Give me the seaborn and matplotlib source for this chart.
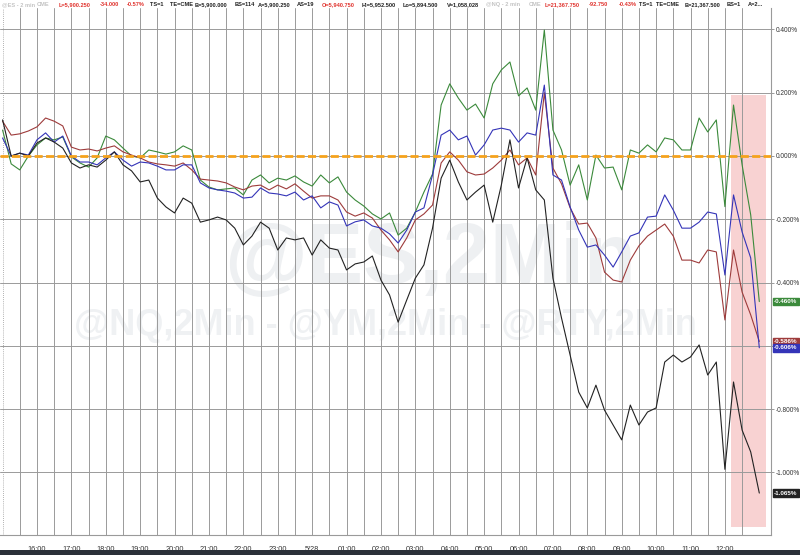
import numpy as np
import pandas as pd
import seaborn as sns
import matplotlib
matplotlib.use("Agg")
import matplotlib.pyplot as plt
import matplotlib.dates as mdates
import matplotlib.transforms as mtransforms
from matplotlib.patches import Rectangle
from matplotlib.ticker import FuncFormatter

# 15-minute readings, % change since the 15:00 open
START = "2025-05-27 15:00"

ym_pct = [0.11, 0.066, 0.07, 0.079, 0.092, 0.12, 0.11, 0.095, 0.028, 0.019,
          0.022, 0.016, 0.025, 0.032, 0.013, 0.003, -0.006, -0.019, -0.025, -0.028,
          -0.032, -0.022, -0.044, -0.073, -0.076, -0.079, -0.085, -0.098, -0.107, -0.095,
          -0.092, -0.107, -0.092, -0.104, -0.088, -0.111, -0.133, -0.126, -0.126, -0.139,
          -0.177, -0.19, -0.18, -0.196, -0.234, -0.265, -0.303, -0.259, -0.202, -0.183,
          -0.155, -0.022, 0.013, -0.013, -0.05, -0.06, -0.057, -0.038, -0.013, 0.019,
          -0.028, -0.006, -0.06, 0.2, -0.038, -0.088, -0.164, -0.215, -0.212, -0.259,
          -0.367, -0.392, -0.398, -0.329, -0.284, -0.253, -0.234, -0.215, -0.253, -0.329,
          -0.329, -0.338, -0.297, -0.303, -0.518, -0.297, -0.43, -0.502, -0.586]

es_pct = [0.057, 0.0, 0.009, 0.003, 0.051, 0.073, 0.044, 0.063, 0.0, -0.019,
          -0.019, -0.028, -0.006, 0.013, -0.013, -0.032, -0.019, -0.022, -0.032, -0.044,
          -0.044, -0.028, -0.028, -0.085, -0.101, -0.107, -0.111, -0.117, -0.133, -0.13,
          -0.101, -0.117, -0.12, -0.126, -0.114, -0.139, -0.126, -0.164, -0.145, -0.155,
          -0.221, -0.208, -0.202, -0.221, -0.228, -0.246, -0.275, -0.234, -0.177, -0.164,
          -0.06, 0.066, 0.082, 0.051, 0.063, 0.003, 0.035, 0.082, 0.088, 0.082,
          0.044, 0.073, 0.066, 0.224, -0.06, -0.076, -0.161, -0.234, -0.288, -0.281,
          -0.313, -0.351, -0.303, -0.253, -0.243, -0.193, -0.19, -0.123, -0.171, -0.228,
          -0.228, -0.209, -0.177, -0.183, -0.376, -0.123, -0.24, -0.322, -0.606]

nq_pct = [0.082, -0.025, -0.044, 0.0, 0.035, 0.057, 0.051, 0.06, -0.003, -0.022,
          -0.035, -0.006, 0.063, 0.051, 0.025, 0.0, -0.006, 0.019, 0.013, 0.006,
          0.013, 0.032, 0.019, -0.076, -0.098, -0.107, -0.104, -0.101, -0.123, -0.076,
          -0.06, -0.085, -0.07, -0.076, -0.063, -0.082, -0.095, -0.06, -0.085, -0.066,
          -0.114, -0.139, -0.158, -0.183, -0.199, -0.18, -0.25, -0.228, -0.177, -0.114,
          -0.057, 0.161, 0.228, 0.183, 0.145, 0.164, 0.12, 0.228, 0.272, 0.297,
          0.19, 0.215, 0.145, 0.398, 0.082, 0.019, -0.092, -0.028, -0.139, 0.003,
          -0.038, -0.035, -0.107, 0.019, 0.009, 0.035, 0.013, 0.057, 0.051, 0.019,
          0.019, 0.12, 0.076, 0.114, -0.16, 0.161, -0.028, -0.186, -0.46]

rty_pct = [0.114, 0.0, 0.009, 0.0, 0.041, 0.057, 0.044, 0.025, -0.022, -0.038,
           -0.028, -0.035, -0.013, 0.013, -0.028, -0.047, -0.082, -0.076, -0.133, -0.161,
           -0.18, -0.133, -0.149, -0.209, -0.202, -0.193, -0.202, -0.228, -0.281, -0.253,
           -0.209, -0.228, -0.297, -0.259, -0.265, -0.259, -0.313, -0.265, -0.291, -0.297,
           -0.36, -0.341, -0.335, -0.316, -0.392, -0.439, -0.525, -0.455, -0.386, -0.344,
           -0.228, -0.07, -0.013, -0.082, -0.139, -0.114, -0.092, -0.209, -0.092, 0.051,
           -0.101, -0.006, -0.107, -0.139, -0.386, -0.512, -0.629, -0.746, -0.796, -0.724,
           -0.803, -0.85, -0.897, -0.787, -0.85, -0.809, -0.796, -0.651, -0.629, -0.651,
           -0.635, -0.597, -0.692, -0.651, -0.99, -0.714, -0.866, -0.935, -1.065]

contracts = ["NQ", "YM", "ES", "RTY"]
last_labels = ["-0.460%", "-0.586%", "-0.606%", "-1.065%"]
hour_labels = ["16:00", "17:00", "18:00", "19:00", "20:00", "21:00", "22:00",
               "23:00", "5/28", "01:00", "02:00", "03:00", "04:00", "05:00",
               "06:00", "07:00", "08:00", "09:00", "10:00", "11:00", "12:00"]
y_ticks = [0.4, 0.2, 0.0, -0.2, -0.4, -0.6, -0.8, -1.0]

# highlighted window at the end of the session
shade_start, shade_end = "2025-05-28 12:10", "2025-05-28 13:11"
shade_top, shade_bottom = 0.193, -1.172

colors = {"NQ": "#3b8a3b", "YM": "#9e3b3b", "ES": "#3434b8", "RTY": "#222222"}

times = pd.date_range(START, periods=len(es_pct), freq="15min")
wide = pd.DataFrame({"time": times, "NQ": nq_pct, "YM": ym_pct,
                     "ES": es_pct, "RTY": rty_pct})
df = wide.melt(id_vars="time", var_name="contract", value_name="pct")

sns.set_theme(style="white")
plt.rcParams["font.family"] = ["Liberation Sans", "DejaVu Sans"]

fig = plt.figure(figsize=(8, 5.55), dpi=100)
ax = fig.add_axes([0, 20 / 555, 771 / 800, 527 / 555])

# watermarks
ax.text(430 / 800, 1 - 283 / 555, "@ES,2Min", transform=fig.transFigure,
        fontsize=61, fontweight="bold", color="#eef0f2", ha="center",
        va="baseline", zorder=0.1)
ax.text(385 / 800, 1 - 335 / 555, "@NQ,2Min - @YM,2Min - @RTY,2Min",
        transform=fig.transFigure, fontsize=26, fontweight="bold",
        color="#eff1f3", ha="center", va="baseline", zorder=0.1)

x0 = mdates.date2num(pd.Timestamp(shade_start))
x1 = mdates.date2num(pd.Timestamp(shade_end))
ax.add_patch(Rectangle((x0, shade_bottom), x1 - x0, shade_top - shade_bottom,
                       facecolor="#f7caca", edgecolor="none", alpha=0.85, zorder=0.2))

sns.lineplot(data=df, x="time", y="pct", hue="contract", hue_order=contracts,
             palette=colors, linewidth=0.8, legend=False, ax=ax, zorder=3)

ax.axhline(0, color="#f5a21c", linewidth=2, linestyle=(0, (2.9, 1.2)), zorder=4)
ax.axvline(mdates.date2num(pd.Timestamp(START)), color="#999999", linewidth=0.6,
           linestyle=(0, (1, 1.5)), zorder=1)

# axes limits / ticks
ax.set_xlim(mdates.date2num(pd.Timestamp("2025-05-27 14:55:30")),
            mdates.date2num(pd.Timestamp("2025-05-28 13:20:24")))
ax.set_ylim(-1.1975, 0.4676)

major = pd.date_range("2025-05-27 16:00", periods=len(hour_labels), freq="h")
minor = pd.date_range("2025-05-27 15:30", periods=len(hour_labels) + 1, freq="h")
ax.set_xticks(mdates.date2num(major))
ax.set_xticklabels(hour_labels)
ax.set_xticks(mdates.date2num(minor), minor=True)
ax.set_yticks(y_ticks)
ax.yaxis.set_major_formatter(FuncFormatter(lambda v, _: f"{v:.3f}%"))
ax.yaxis.tick_right()
ax.set_xlabel("")
ax.set_ylabel("")

ax.set_axisbelow(True)
ax.grid(True, which="both", axis="x", color="#9a9a9a", linewidth=0.7)
ax.grid(True, which="major", axis="y", color="#9a9a9a", linewidth=0.7)
ax.tick_params(axis="x", which="both", length=5, width=0.7, color="#9a9a9a",
               labelsize=5.3, labelcolor="#333333", pad=3, direction="out")
ax.tick_params(axis="y", length=2, width=0.7, color="#9a9a9a",
               labelsize=4.7, labelcolor="#333333", pad=1.2)
for side in ["top", "left"]:
    ax.spines[side].set_visible(False)
for side in ["right", "bottom"]:
    ax.spines[side].set_color("#9a9a9a")
    ax.spines[side].set_linewidth(0.8)

# last value tags on the right axis
blend = mtransforms.blended_transform_factory(ax.transAxes, ax.transData)
for name, lab in zip(contracts, last_labels):
    val = wide[name].iloc[-1]
    ax.text(1.004, val, lab, transform=blend, fontsize=4.5, color="white",
            fontweight="bold", ha="left", va="center", clip_on=False, zorder=6,
            bbox=dict(boxstyle="square,pad=0.22", facecolor=colors[name],
                      edgecolor=colors[name]))

# quote header strip
light, red, dark = "#c4c4c4", "#e0332e", "#222222"
header = [(2, "@ES - 2 min", light), (37, "CME", light), (59, "L=5,900.250", red),
          (100, "-34.000", red), (127, "-0.57%", red), (150, "TS=1", dark),
          (170, "TE=CME", dark), (195, "B=5,900.000", dark), (235, "BS=114", dark),
          (258, "A=5,900.250", dark), (297, "AS=19", dark), (322, "O=5,940.750", red),
          (362, "Hi=5,952.500", dark), (403, "Lo=5,894.500", dark),
          (447, "V=1,058,028", dark), (486, "@NQ - 2 min", light), (529, "CME", light),
          (545, "L=21,367.750", red), (589, "-92.750", red), (619, "-0.43%", red),
          (639, "TS=1", dark), (656, "TE=CME", dark), (685, "B=21,367.500", dark),
          (727, "BS=1", dark), (748, "A=2...", dark)]
for px, txt, col in header:
    fig.text(px / 800, 1 - 4.5 / 555, txt, fontsize=4.1, fontweight="bold",
             color=col, ha="left", va="center")

# dark window edge at the bottom
fig.patches.append(Rectangle((0, 0), 1, 5 / 555, transform=fig.transFigure,
                             facecolor="#2b3039", edgecolor="none"))

fig.savefig("out.png", dpi=100)
